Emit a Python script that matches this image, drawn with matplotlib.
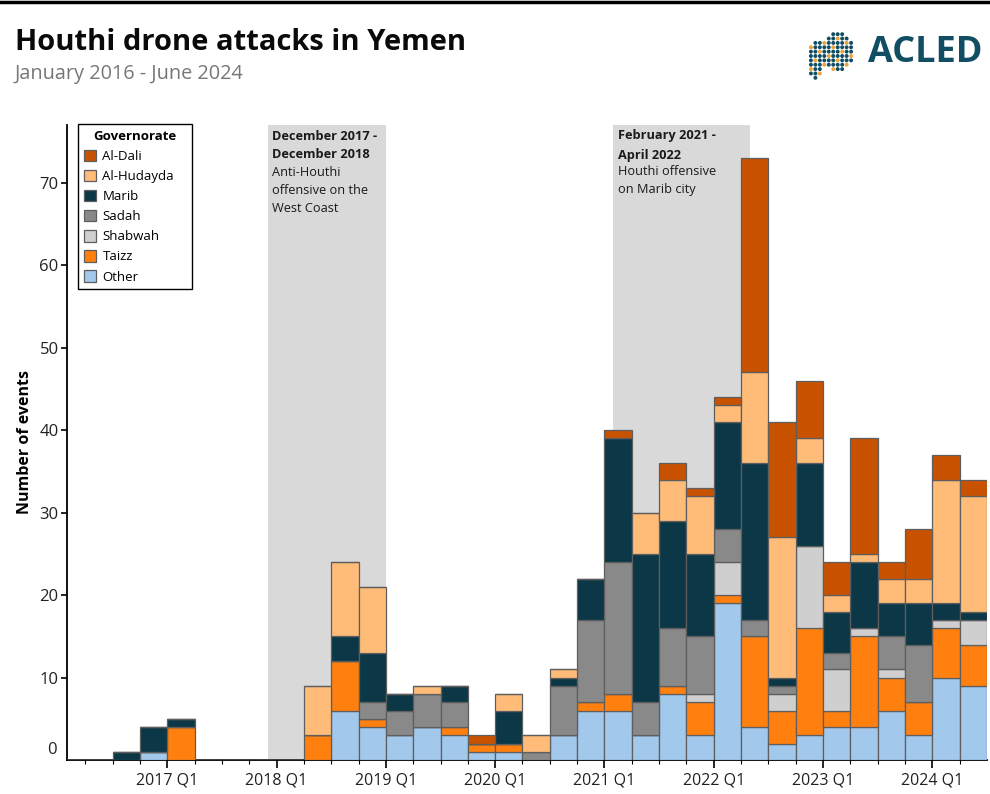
import numpy as np
import matplotlib
matplotlib.use("Agg")
import matplotlib.pyplot as plt
from matplotlib.lines import Line2D
from matplotlib.patches import Patch
import matplotlib.transforms as mtransforms

plt.rcParams['font.family'] = ['Open Sans', 'DejaVu Sans']

# Quarters: 2016 Q1 ... 2024 Q2 (34 quarters)
quarters = [f"{y} Q{q}" for y in range(2016, 2025) for q in range(1, 5)][:34]

series_names = ["Other", "Taizz", "Shabwah", "Sadah", "Marib", "Al-Hudayda", "Al-Dali"]
colors = {
    "Al-Dali": "#C85200",
    "Al-Hudayda": "#FFBC79",
    "Marib": "#0C3746",
    "Sadah": "#898989",
    "Shabwah": "#CFCFCF",
    "Taizz": "#FF800E",
    "Other": "#A2C8EC",
}

other      = [0,0,0,1,0,0,0,0,0,0,6,4,3,4,3,1,1,0,3,6,6,3,8,3,19,4,2,3,4,4,6,3,10,9]
taizz      = [0,0,0,0,4,0,0,0,0,3,6,1,0,0,1,1,1,0,0,1,2,0,1,4,1,11,4,13,2,11,4,4,6,5]
shabwah    = [0,0,0,0,0,0,0,0,0,0,0,0,0,0,0,0,0,0,0,0,0,0,0,1,4,0,2,10,5,1,1,0,1,3]
sadah      = [0,0,0,0,0,0,0,0,0,0,0,2,3,4,3,0,0,1,6,10,16,4,7,7,4,2,1,0,2,0,4,7,0,0]
marib      = [0,0,1,3,1,0,0,0,0,0,3,6,2,0,2,0,4,0,1,5,15,18,13,10,13,19,1,10,5,8,4,5,2,1]
al_hudayda = [0,0,0,0,0,0,0,0,0,6,9,8,0,1,0,0,2,2,1,0,0,5,5,7,2,11,17,3,2,1,3,3,15,14]
al_dali    = [0,0,0,0,0,0,0,0,0,0,0,0,0,0,0,1,0,0,0,0,1,0,2,1,1,26,14,7,4,14,2,6,3,2]

data = {
    "Other": other, "Taizz": taizz, "Shabwah": shabwah, "Sadah": sadah,
    "Marib": marib, "Al-Hudayda": al_hudayda, "Al-Dali": al_dali,
}

year_ticks = [f"{y} Q1" for y in range(2017, 2025)]

W, H = 990, 794
fig = plt.figure(figsize=(W / 100, H / 100), dpi=100)
ax_l, ax_r, ax_t, ax_b = 67, 987, 125, 760
ax = fig.add_axes([ax_l / W, 1 - ax_b / H, (ax_r - ax_l) / W, (ax_b - ax_t) / H])

x = np.arange(len(quarters)) + 0.5
bottom = np.zeros(len(quarters))
for name in series_names:
    vals = np.array(data[name], dtype=float)
    ax.bar(x, vals, width=1.0, bottom=bottom, color=colors[name],
           edgecolor="#5E5E5E", linewidth=0.9, zorder=3)
    bottom += vals

ax.set_xlim(0.33, 34.0)
ax.set_ylim(0, 77)

# shaded periods
ax.axvspan(7.67, 12.0, color="#D9D9D9", zorder=1, lw=0)
ax.axvspan(20.33, 25.33, color="#D9D9D9", zorder=1, lw=0)

def ypix(py):
    return (ax_b - py) / (ax_b - ax_t) * 77

ann_kw = dict(fontsize=9.2, color="#1a1a1a", va="center", ha="left", zorder=4)
ax.text(7.82, ypix(136), "December 2017 -", fontweight="bold", **ann_kw)
ax.text(7.82, ypix(155), "December 2018", fontweight="bold", **ann_kw)
ax.text(7.82, ypix(173), "Anti-Houthi", **ann_kw)
ax.text(7.82, ypix(190), "offensive on the", **ann_kw)
ax.text(7.82, ypix(208), "West Coast", **ann_kw)

ax.text(20.48, ypix(136), "February 2021 -", fontweight="bold", **ann_kw)
ax.text(20.48, ypix(155), "April 2022", fontweight="bold", **ann_kw)
ax.text(20.48, ypix(172), "Houthi offensive", **ann_kw)
ax.text(20.48, ypix(189), "on Marib city", **ann_kw)

# axes styling
for s in ["top", "right"]:
    ax.spines[s].set_visible(False)
ax.spines["left"].set_linewidth(1.3)
ax.spines["bottom"].set_linewidth(1.3)

ax.set_yticks(range(10, 80, 10))
ax.tick_params(axis="y", length=4, width=1.2, labelsize=12, labelcolor="#222222", pad=2)
ax.text(-10 / (ax_r - ax_l), ypix(750), "0", transform=mtransforms.blended_transform_factory(ax.transAxes, ax.transData),
        ha="right", va="center", fontsize=12, color="#222222")

ax.set_xticks(np.arange(4, 33, 4))
ax.set_xticklabels(year_ticks)
ax.set_xticks(np.arange(1, 34), minor=True)
ax.tick_params(axis="x", which="major", length=6, width=1.2, labelsize=11.5, labelcolor="#222222", pad=3)
ax.tick_params(axis="x", which="minor", length=3, width=0.8)

ax.set_ylabel("Number of events", fontsize=11.5, fontweight="bold")
ax.yaxis.set_label_coords(-34 / (ax_r - ax_l), 0.5)

# legend
labels = ["Al-Dali", "Al-Hudayda", "Marib", "Sadah", "Shabwah", "Taizz", "Other"]
handles = [Patch(facecolor=colors[n], edgecolor="#5E5E5E", linewidth=0.9) for n in labels]
aw, ah = (ax_r - ax_l), (ax_b - ax_t)
leg = ax.legend(handles, labels, title="Governorate", loc="upper left",
                bbox_to_anchor=((78 - ax_l) / aw, 1 + 1 / ah, 114 / aw, 0.0),
                mode="expand",
                fontsize=9.5, title_fontproperties={"weight": "bold", "size": 9.5},
                frameon=True, fancybox=False, edgecolor="black", framealpha=1,
                handlelength=0.95, handleheight=0.95, handletextpad=0.45,
                labelspacing=0.52, borderpad=0.45, borderaxespad=0)
leg.get_frame().set_linewidth(1.0)
leg.set_zorder(5)

# titles
fig.text(15 / W, 1 - 42 / H, "Houthi drone attacks in Yemen", fontsize=21, fontweight="bold",
         color="#0a0a0a", ha="left", va="center")
fig.text(15 / W, 1 - 74 / H, "January 2016 - June 2024", fontsize=14.3, color="#777777",
         ha="left", va="center")

# top rule
fig.add_artist(Line2D([0, 1], [1 - 1.5 / H, 1 - 1.5 / H], color="black", lw=2.5, transform=fig.transFigure))

# logo
fig.text(983 / W, 1 - 53 / H, "ACLED", fontsize=26, fontweight="bold", color="#124E63",
         ha="right", va="center")
lax = fig.add_axes([804 / W, 1 - 80 / H, 54 / W, 48 / H])
lax.set_axis_off()
gx, gy = np.meshgrid(np.linspace(0, 1, 12), np.linspace(0, 1, 11))
gx = gx.ravel(); gy = gy.ravel()
mask = (((gx - 0.65) / 0.35) ** 2 + ((gy - 0.6) / 0.42) ** 2 < 1) | \
       (((gx - 0.2) / 0.18) ** 2 + ((gy - 0.42) / 0.45) ** 2 < 1)
idx = np.arange(len(gx))
dot_cols = np.where((idx * 7) % 5 == 0, "#E8A33D", "#124E63")
lax.scatter(gx[mask], gy[mask], s=8, c=dot_cols[mask], linewidths=0)
lax.set_xlim(-0.05, 1.05); lax.set_ylim(-0.05, 1.05)

fig.savefig("out.png", dpi=100)
